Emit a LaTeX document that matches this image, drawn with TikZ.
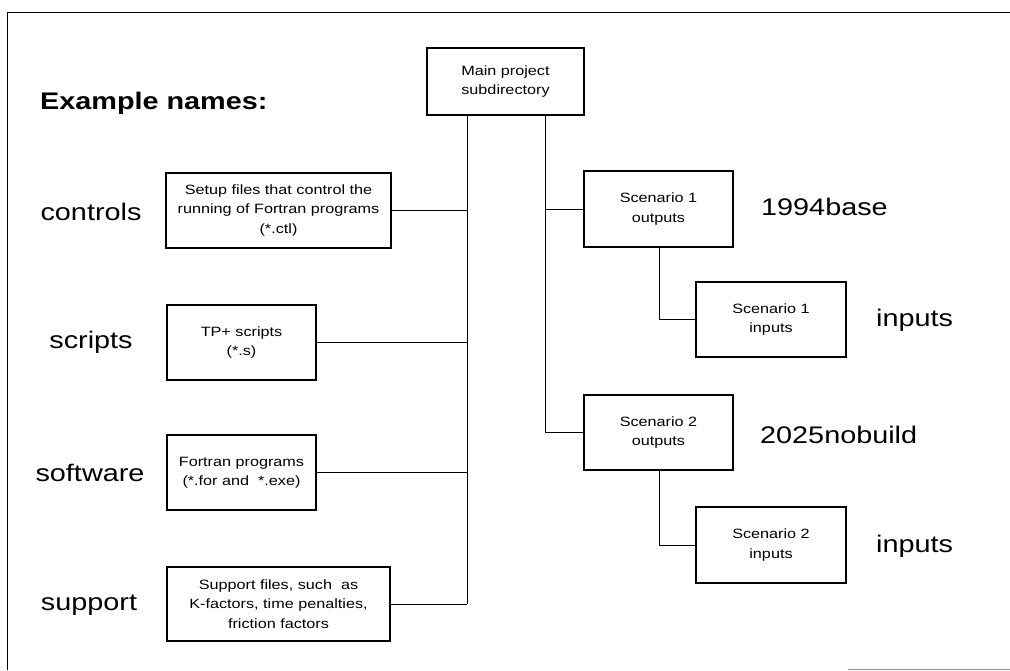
\documentclass[tikz,border=0pt]{standalone}
\usepackage{fontspec}
\setmainfont{Liberation Sans}
\newfontfamily\boxfont[FakeStretch=1.2]{Liberation Sans}
\newfontfamily\labfont[FakeStretch=1.2]{Liberation Sans}
\usetikzlibrary{calc}
\begin{document}
\begin{tikzpicture}[x=1pt,y=-1pt,
  dbox/.style={draw=black,line width=1.1pt,fill=white,inner sep=2pt,align=center,
     font=\boxfont\fontsize{13.5}{19.5}\selectfont},
  lab/.style={font=\labfont\fontsize{24}{28}\selectfont,inner sep=0pt},
  conn/.style={draw=black,line width=0.9pt},
  frame/.style={draw=black,line width=1pt}]
\useasboundingbox (0,0) rectangle (1010,670);
% frame
\draw[frame] (7,670) -- (7,12) -- (1010,12);
\draw[draw=black!45,line width=0.8pt] (848,669) -- (1010,669);
% title
\node[font=\labfont\bfseries\fontsize{24}{28}\selectfont,anchor=west,inner sep=0pt] (title) at (40,103) {Example names:};
% boxes
\node[dbox,minimum width=157pt,minimum height=67pt] (main) at (505.5,81.5) {Main project\\subdirectory};
\node[dbox,minimum width=225pt,minimum height=75pt] (controls) at (278.5,210.5) {Setup files that control the\\running of Fortran programs\\(*.ctl)};
\node[dbox,minimum width=149pt,minimum height=75pt] (scripts) at (241.5,342.5) {TP+ scripts\\(*.s)};
\node[dbox,minimum width=149pt,minimum height=75pt] (software) at (241.5,472.5) {Fortran programs\\(*.for and \ *.exe)};
\node[dbox,minimum width=223pt,minimum height=74pt] (support) at (278.5,604) {Support files, such \ as\\K-factors, time penalties,\\friction factors};
\node[dbox,minimum width=149pt,minimum height=76pt] (s1o) at (658.5,209) {Scenario 1\\outputs};
\node[dbox,minimum width=150pt,minimum height=75pt] (s1i) at (771,319.5) {Scenario 1\\inputs};
\node[dbox,minimum width=149pt,minimum height=75pt] (s2o) at (658.5,432.5) {Scenario 2\\outputs};
\node[dbox,minimum width=150pt,minimum height=76pt] (s2i) at (771,545) {Scenario 2\\inputs};
% labels
\node[lab] (lcontrols) at (91,212) {controls};
\node[lab] (lscripts) at (91,342) {scripts};
\node[lab] (lsoftware) at (90,473) {software};
\node[lab] (lsupport) at (89,605) {support};
\node[lab,anchor=west] (l1994) at (761,207) {1994base};
\node[lab,anchor=west] (lin1) at (876,320) {inputs};
\node[lab,anchor=west] (l2025) at (760,435) {2025nobuild};
\node[lab,anchor=west] (lin2) at (876,546) {inputs};
% trunk coordinates
\coordinate (trunkL) at (467,0);
\coordinate (trunkR) at (545,0);
\coordinate (subx) at (659,0);
% connectors
\draw[conn] (main.south -| trunkL) -- (trunkL |- support.east);
\draw[conn] (controls.east) -- (controls.east -| trunkL);
\draw[conn] (scripts.east) -- (scripts.east -| trunkL);
\draw[conn] (software.east) -- (software.east -| trunkL);
\draw[conn] (support.east) -- (support.east -| trunkL);
\draw[conn] (main.south -| trunkR) |- (s2o.west);
\draw[conn] (s1o.west) -- (s1o.west -| trunkR);
\draw[conn] (s1o.south -| subx) |- (s1i.west);
\draw[conn] (s2o.south -| subx) |- (s2i.west);
\end{tikzpicture}
\end{document}
